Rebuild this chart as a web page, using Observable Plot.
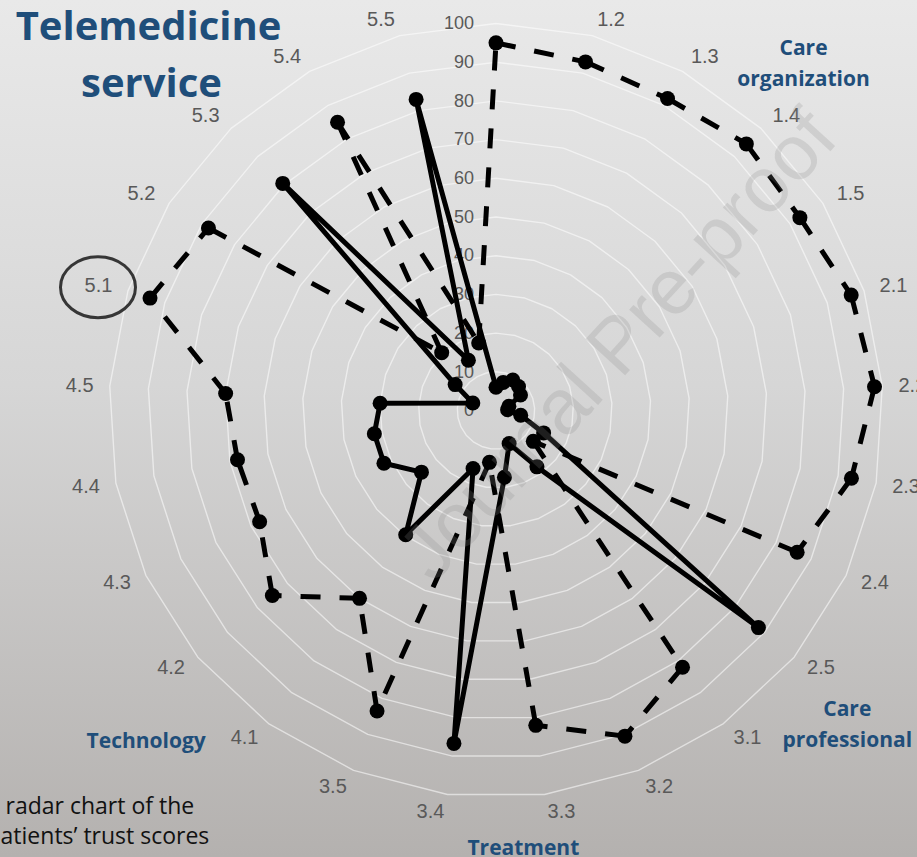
<!DOCTYPE html>
<html>
<head>
<meta charset="utf-8">
<script src="https://cdn.jsdelivr.net/npm/d3@7"></script>
<script src="https://cdn.jsdelivr.net/npm/@observablehq/plot@0.6"></script>
<style>
  html, body { margin: 0; padding: 0; overflow: hidden; }
  #wrap { position: relative; width: 917px; height: 857px; overflow: hidden;
    background: linear-gradient(to bottom, #e9e9e9 0%, #d6d6d6 45%, #b4b1af 100%); }
  #wrap svg { position: absolute; left: 0; top: 0; }
</style>
</head>
<body>
<div id="wrap"></div>
<script>
// ---------- data ----------
const categories = ["1.1","1.2","1.3","1.4","1.5","2.1","2.2","2.3","2.4","2.5",
                    "3.1","3.2","3.3","3.4","3.5","4.1","4.2","4.3","4.4","4.5",
                    "5.1","5.2","5.3","5.4","5.5"];
const dashedValues = [95, 93, 92, 94.5, 93, 96.5, 98, 93.5, 86, 12.5,
                      82, 90.5, 82, 13.5, 83.5, 60, 75, 67.5, 68, 70,
                      94, 88, 20.5, 85, 18];
const solidValues  = [6, 7.5, 9, 8.5, 7.5, 3.5, 3, 6.5, 13.6, 88,
                      18, 9.2, 17.4, 86.7, 16.1, 39.7, 25, 32, 32, 30,
                      6.3, 12.5, 80.5, 14.8, 83];
const ticks = [0, 10, 20, 30, 40, 50, 60, 70, 80, 90, 100];
const groupNames = ["Care\norganization", "Care\nprofessional", "Treatment", "Technology"];
const titleLines = ["Telemedicine", "service"];
const captionLines = ["radar chart of the", "patients\u2019 trust scores"];
const watermark = "Journal Pre-proof";
const highlighted = "5.1";

// ---------- layout (not data) ----------
const groupPlacement = [ {angle: 41.3, r: 120.4}, {angle: 131.5, r: 121.2},
                         {angle: 176.4, r: 112.6}, {angle: 226.9, r: 123.8} ];
const blue = "#1f4e7a";
const grey = "#595959";

const N = categories.length;
const ang = i => i * 2 * Math.PI / N;
const polar = (v, i) => ({x: v * Math.sin(ang(i)), y: v * Math.cos(ang(i))});

const dashedPts = dashedValues.map((v, i) => ({cat: categories[i], v, ...polar(v, i)}));
const solidPts  = solidValues.map((v, i) => ({cat: categories[i], v, ...polar(v, i)}));
const dashedSegs = dashedPts.map((p, i) => {
  const q = dashedPts[(i + 1) % N];
  return {x1: p.x, y1: p.y, x2: q.x, y2: q.y};
});
const rings = ticks.filter(t => t > 0).flatMap(t => categories.map((c, i) => ({level: t, ...polar(t, i)})));
// category labels sit just outside the 100 ring, pushed sideways by half their width
const catLabels = categories.map((c, i) => {
  const s = Math.sin(ang(i)), co = Math.cos(ang(i));
  return {cat: c, x: 103.9 * s + 3.9 * Math.sign(Math.round(s * 1e6)), y: 104.4 * co};
}).filter(d => d.cat !== "1.1"); // top label falls outside the picture
const groupLabels = groupNames.map((g, k) => {
  const a = groupPlacement[k].angle * Math.PI / 180, r = groupPlacement[k].r;
  return {text: g, x: r * Math.sin(a), y: r * Math.cos(a)};
});

const cx = 495.5, cy = 410, R100 = 387;

const ellipseMark = (index, scales) => {
  const lab = catLabels.find(d => d.cat === highlighted);
  const e = document.createElementNS("http://www.w3.org/2000/svg", "ellipse");
  e.setAttribute("cx", scales.x(lab.x));
  e.setAttribute("cy", scales.y(lab.y) + 2);
  e.setAttribute("rx", 37.5);
  e.setAttribute("ry", 30.5);
  e.setAttribute("fill", "none");
  e.setAttribute("stroke", "#363636");
  e.setAttribute("stroke-width", 3);
  const g = document.createElementNS("http://www.w3.org/2000/svg", "g");
  g.appendChild(e);
  return g;
};

const font = "Liberation Sans, Arial, sans-serif";
const bold = "Open Sans, sans-serif";

const chart = Plot.plot({
  width: 917,
  height: 857,
  margin: 0,
  x: {type: "linear", domain: [-100, 100], range: [cx - R100, cx + R100], axis: null},
  y: {type: "linear", domain: [-100, 100], range: [cy + R100, cy - R100], axis: null},
  style: {background: "transparent", overflow: "visible"},
  marks: [
    // grid rings
    Plot.line(rings, {x: "x", y: "y", z: "level", curve: "linear-closed",
      stroke: "#ffffff", strokeWidth: 1.4, strokeOpacity: 0.55}),
    // tick labels
    Plot.text(ticks, {x: 0, y: d => d, text: d => String(d), textAnchor: "end", dx: -22,
      fontSize: 18, fill: grey, fontFamily: font}),
    // category labels
    Plot.text(catLabels, {x: "x", y: "y", text: "cat", textAnchor: "middle",
      fontSize: 20, fill: grey, fontFamily: font}),
    ellipseMark,
    // group labels
    Plot.text(groupLabels, {x: "x", y: "y", text: "text", textAnchor: "middle", lineHeight: 1.48,
      fontSize: 21, fontWeight: "bold", fill: blue, fontFamily: bold}),
    // dashed series (pattern restarts at each point, as in the original)
    Plot.link(dashedSegs, {x1: "x1", y1: "y1", x2: "x2", y2: "y2", stroke: "black",
      strokeWidth: 5, strokeDasharray: "20,19"}),
    Plot.dot(dashedPts, {x: "x", y: "y", r: 7.5, fill: "black"}),
    // solid series
    Plot.line(solidPts, {x: "x", y: "y", curve: "linear-closed", stroke: "black",
      strokeWidth: 5, strokeLinejoin: "round"}),
    Plot.dot(solidPts, {x: "x", y: "y", r: 7.5, fill: "black"}),
    // title
    Plot.text([titleLines[0]], {frameAnchor: "top-left", dx: 148, dy: 27, text: d => d,
      lineAnchor: "middle", textAnchor: "middle", fontSize: 40, fontWeight: "bold", fill: blue, fontFamily: bold}),
    Plot.text([titleLines[1]], {frameAnchor: "top-left", dx: 151, dy: 84, text: d => d,
      lineAnchor: "middle", textAnchor: "middle", fontSize: 40, fontWeight: "bold", fill: blue, fontFamily: bold}),
    // caption (cropped at the left edge in the original)
    Plot.text([captionLines[0]], {frameAnchor: "top-left", dx: 5, dy: 806.5, text: d => d,
      lineAnchor: "middle", textAnchor: "start", fontSize: 23, fill: "#111", fontFamily: bold}),
    Plot.text([captionLines[1]], {frameAnchor: "top-left", dx: -14, dy: 836.5, text: d => d,
      lineAnchor: "middle", textAnchor: "start", fontSize: 23, fill: "#111", fontFamily: bold}),
    // watermark
    Plot.text([watermark], {frameAnchor: "top-left", dx: 618, dy: 345, text: d => d, rotate: -47.5,
      lineAnchor: "middle", textAnchor: "middle", fontSize: 78, fill: "#8a8a8a", fillOpacity: 0.22,
      fontFamily: font})
  ]
});
document.getElementById("wrap").appendChild(chart);
</script>
</body>
</html>
